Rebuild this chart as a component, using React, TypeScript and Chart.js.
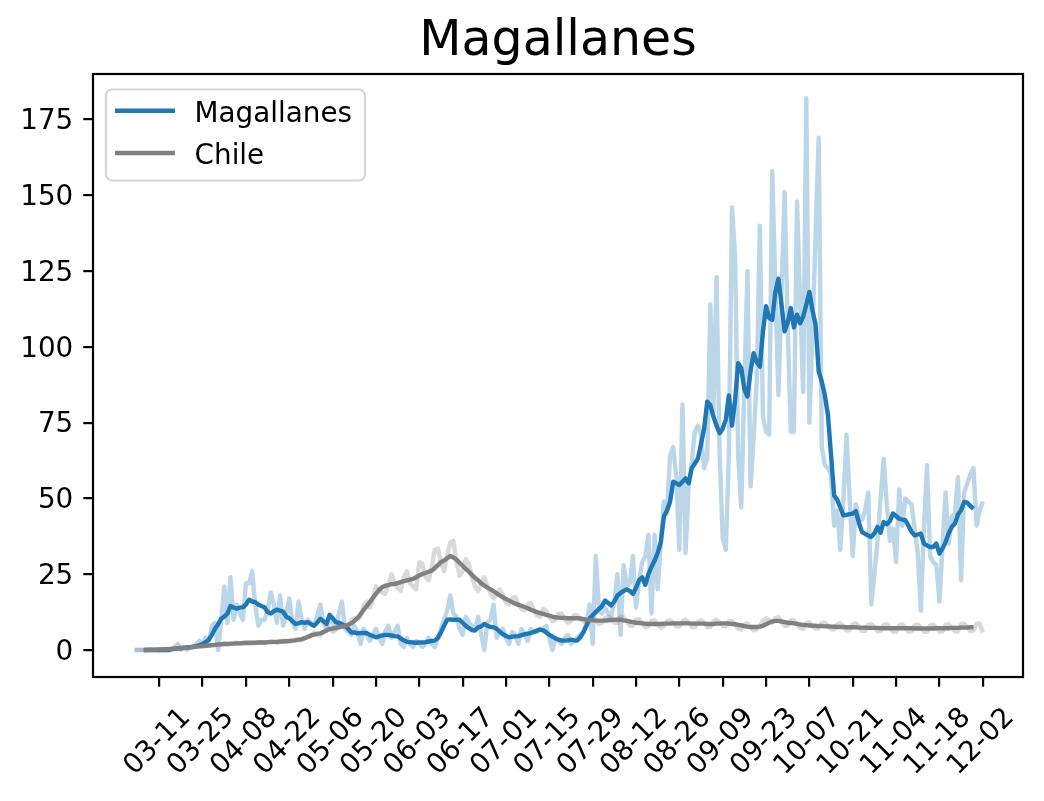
import { useEffect, useRef } from "react";
import { Chart, registerables } from "chart.js";

Chart.register(...registerables);

// Day index 0 = 03-03, last index 274 = 12-02
const DAILY_START = 0;
const AVG_START = 3; // centred 7-day mean begins on 03-06

const TITLE = "Magallanes";
const LEGEND_LABELS = ["Magallanes", "Chile"];

const MAGALLANES_DAILY = [
  0, 0, 0, 0, 0, 0, 0, 0, 0, 0,
  0, 0, 0, 1, 2, 0, 1, 0, 1, 1,
  2, 3, 2, 4, 3, 8, 9, 0, 10, 21,
  9, 24, 10, 15, 12, 10, 22, 22, 26, 15,
  8, 10, 10, 13, 19, 15, 9, 18, 8, 12,
  17, 9, 7, 16, 10, 7, 10, 9, 8, 11,
  15, 9, 7, 10, 9, 7, 12, 16, 7, 6,
  5, 8, 6, 2, 7, 5, 3, 5, 7, 4,
  2, 6, 8, 4, 6, 8, 2, 1, 4, 2,
  1, 3, 2, 1, 2, 4, 2, 1, 4, 7,
  10, 13, 18, 12, 11, 7, 5, 11, 9, 8,
  7, 11, 5, 0, 9, 10, 15, 4, 6, 7,
  4, 2, 6, 5, 2, 7, 5, 3, 7, 6,
  6, 7, 7, 8, 4, 0, 4, 3, 2, 4,
  5, 2, 3, 4, 5, 6, 9, 15, 2, 31,
  14, 12, 14, 12, 11, 16, 25, 5, 28, 21,
  22, 31, 14, 23, 29, 31, 38, 12, 38, 20,
  35, 49, 45, 64, 67, 57, 33, 81, 32, 54,
  62, 72, 74, 71, 60, 63, 114, 78, 123, 65,
  37, 33, 65, 146, 130, 64, 47, 88, 125, 54,
  70, 89, 140, 77, 72, 71, 158, 120, 84, 118,
  151, 106, 72, 72, 148, 115, 85, 182, 75, 105,
  137, 169, 67, 61, 60, 58, 41, 46, 33, 50,
  71, 50, 31, 48, 44, 43, 46, 52, 15, 25,
  36, 50, 63, 48, 36, 40, 29, 53, 41, 50,
  49, 48, 40, 32, 13, 40, 61, 31, 29, 28,
  16, 34, 52, 35, 44, 45, 57, 23, 52, 55,
  58, 60, 41, 46, 49,
];

const MAGALLANES_AVG = [
  0, 0, 0, 0, 0, 0, 0,
  0, 0, 0.3, 0.4, 0.6, 0.7, 0.7, 0.9, 0.9, 1.1,
  1.3, 1.6, 2, 2.6, 3.4, 5, 7, 8.5, 10.3, 11,
  12, 14.5, 14, 13.6, 14, 14.1, 15, 16.6, 16, 15.8,
  15, 14.5, 14.1, 12.5, 12, 12.8, 13.3, 13, 12.7, 11,
  10.5, 9.5, 8.6, 8.8, 9.2, 9, 9.2, 8.5, 8, 9,
  10.3, 9.5, 8.6, 11.6, 10.5, 9.2, 9, 8.5, 8, 7,
  5.8, 5.8, 5.5, 5.6, 5.6, 5.6, 5, 4.6, 4.2, 4.5,
  4.8, 5, 5, 4.8, 4.6, 4.5, 3.8, 3.2, 2.7, 2.6,
  2.5, 2.4, 2.5, 2.5, 2.6, 2.8, 3, 3.1, 4, 5.8,
  8, 10, 10.1, 10, 10, 10, 9, 8, 7.2, 6.6,
  6.4, 7.5, 7.8, 8.6, 8, 7.6, 7.5, 7, 6, 5.2,
  4.6, 4.2, 4.4, 4.5, 4.6, 4.9, 5.2, 5.4, 5.6, 6,
  6.4, 6.7, 6.5, 5.8, 5, 4.4, 3.8, 3.4, 3.1, 3.1,
  3.2, 3.4, 3.2, 3.1, 4.2, 5.8, 8, 10.4, 11.5, 12.5,
  13.5, 14.5, 16.3, 15.5, 14.7, 16, 18, 18.8, 19.5, 20,
  19.5, 18.5, 20.5, 23, 24, 21.5, 25, 27.4, 29.5, 32,
  35.6, 44, 46, 48.9, 55.5, 55, 54.4, 55.5, 56.6, 55,
  60, 61.5, 63.2, 68, 73, 81.9, 80.8, 77, 74, 71.5,
  73, 76, 84, 74, 82.5, 94.6, 93, 86, 83.6, 92,
  97.9, 95, 93.5, 105, 113.4, 109.5, 108.9, 118, 122.5, 114,
  105.1, 108, 112.8, 106.4, 110.6, 107.8, 110, 113.9, 118.1, 112,
  107.3, 92, 88.5, 84, 77.5, 64.3, 51, 49.5, 47, 44.4,
  44.6, 44.8, 45, 45.8, 42, 38.9, 38.3, 37.8, 37.3, 38.5,
  40.6, 38.7, 42.2, 41.5, 42.5, 45, 44.2, 43.3, 43, 42.8,
  41, 39, 37.8, 38.1, 38.4, 35.1, 34.5, 34, 34, 35.1,
  31.8, 33.5, 35.6, 38.5, 40.6, 41.7, 44.7, 46.1, 48.9, 48.6,
  47.5, 46.6,
];

const CHILE_DAILY = [
  0, 0, 0, 0, 0, 0, 0, 0, 0, 0.1,
  0.1, 0.2, 0.3, 0.3, 0.5, 0.6, 0.5, 0.8, 0.9, 1.0,
  1.1, 1.3, 1.2, 1.4, 1.7, 1.5, 1.6, 2.0, 1.8, 2.2,
  2.0, 1.9, 2.3, 2.4, 2.1, 2.2, 2.5, 2.6, 2.2, 2.3,
  2.7, 2.6, 2.3, 2.5, 2.9, 2.7, 2.4, 2.6, 3.1, 2.9,
  2.7, 3.0, 3.5, 3.3, 3.2, 4.0, 4.5, 4.7, 5.8, 5.0,
  4.8, 5.9, 6.8, 7.2, 6.0, 6.6, 8.0, 8.5, 7.6, 7.4,
  9.8, 10.5, 10.2, 10.9, 14.5, 16.0, 14.0, 16.5, 21.0, 19.5,
  19.0, 18.5, 21.5, 25.0, 22.0, 20.5, 19.5, 24.0, 26.0, 22.0,
  21.0, 20.0, 29.0, 28.5, 24.0, 23.0, 27.0, 33.0, 33.5, 29.0,
  26.0, 31.0, 35.5, 36.0, 29.0, 24.5, 26.0, 30.0, 28.5, 24.0,
  21.0, 19.5, 22.0, 24.0, 21.0, 18.5, 17.0, 18.5, 20.0, 18.0,
  15.5, 15.0, 17.0, 17.5, 15.0, 13.5, 13.0, 15.0, 15.5, 13.0,
  11.5, 11.0, 13.5, 13.0, 11.0, 9.5, 10.0, 12.0, 12.0, 10.0,
  9.0, 9.5, 11.5, 11.5, 10.0, 9.5, 9.0, 10.5, 11.0, 10.0,
  8.5, 9.0, 10.5, 11.0, 10.0, 9.0, 9.0, 11.0, 10.8, 9.5,
  8.0, 8.0, 10.0, 10.2, 9.0, 7.5, 7.8, 9.5, 9.8, 8.5,
  7.3, 7.8, 9.5, 9.8, 9.0, 7.8, 7.8, 9.5, 10.0, 9.0,
  7.6, 7.5, 9.3, 9.8, 9.0, 7.5, 7.6, 9.4, 10.0, 9.2,
  8.0, 7.8, 9.4, 9.5, 8.5, 7.0, 6.8, 8.5, 8.8, 7.5,
  6.5, 6.8, 8.2, 9.5, 10.5, 9.8, 9.0, 10.5, 10.8, 9.2,
  8.0, 8.0, 9.8, 9.8, 8.5, 7.2, 7.0, 8.8, 9.2, 8.0,
  7.0, 7.2, 8.8, 9.0, 8.0, 6.8, 6.8, 8.5, 8.8, 7.6,
  6.4, 6.6, 8.5, 8.8, 7.8, 6.3, 6.3, 8.3, 8.6, 7.5,
  6.2, 6.3, 8.3, 8.5, 7.5, 6.1, 6.0, 8.2, 8.5, 7.4,
  6.0, 6.2, 8.2, 8.4, 7.4, 6.0, 6.0, 8.2, 8.4, 7.4,
  6.0, 6.2, 8.3, 8.5, 7.5, 6.1, 6.2, 8.5, 8.7, 7.6,
  6.3, 6.4, 8.6, 8.8, 5.8,
];

const CHILE_AVG = [
  0, 0, 0.1, 0.1, 0.1, 0.2, 0.2,
  0.3, 0.3, 0.4, 0.5, 0.6, 0.6, 0.7, 0.8, 0.9, 1,
  1.1, 1.2, 1.3, 1.4, 1.5, 1.6, 1.7, 1.8, 1.9, 2,
  2, 2.1, 2.1, 2.2, 2.2, 2.3, 2.3, 2.3, 2.4, 2.4,
  2.5, 2.5, 2.5, 2.6, 2.6, 2.7, 2.7, 2.8, 2.8, 2.9,
  3, 3.1, 3.2, 3.4, 3.6, 3.9, 4.3, 4.8, 5.1, 5.3,
  5.5, 5.9, 6.4, 6.9, 7.1, 7.3, 7.5, 7.7, 8, 8.3,
  8.8, 9.6, 10.5, 11.8, 13.2, 14.5, 15.8, 17.2, 18.5, 19.8,
  20.7, 21.2, 21.4, 21.7, 21.8, 22.1, 22.4, 22.7, 23, 23.2,
  23.5, 24, 24.6, 25.1, 25.4, 25.8, 26.2, 27, 28, 29,
  29.5, 30.3, 31, 30.5, 29.8, 28.8, 27.8, 26.8, 25.8, 24.8,
  23.8, 23, 22, 21.3, 20.6, 20, 19.4, 18.7, 18, 17.4,
  16.8, 16.3, 15.8, 15.3, 14.9, 14.6, 14.2, 13.8, 13.3, 12.9,
  12.5, 12.2, 11.9, 11.6, 11.3, 11, 10.8, 10.7, 10.6, 10.6,
  10.5, 10.5, 10.5, 10.5, 10.4, 10.2, 10, 9.9, 9.8, 9.7,
  9.7, 9.7, 9.7, 9.8, 9.9, 10, 10, 10, 9.8, 9.6,
  9.4, 9.2, 9, 8.9, 8.8, 8.7, 8.6, 8.6, 8.6, 8.6,
  8.6, 8.7, 8.7, 8.7, 8.8, 8.8, 8.8, 8.8, 8.8, 8.8,
  8.7, 8.7, 8.7, 8.7, 8.7, 8.6, 8.6, 8.6, 8.7, 8.7,
  8.8, 8.8, 8.7, 8.6, 8.5, 8.3, 8.1, 7.9, 7.7, 7.6,
  7.6, 7.6, 7.7, 8, 8.5, 9, 9.4, 9.6, 9.6, 9.4,
  9.2, 9, 8.9, 8.8, 8.6, 8.4, 8.3, 8.2, 8.1, 8,
  8, 7.9, 7.9, 7.8, 7.8, 7.7, 7.7, 7.6, 7.6, 7.6,
  7.5, 7.5, 7.5, 7.5, 7.4, 7.4, 7.4, 7.3, 7.3, 7.3,
  7.3, 7.2, 7.2, 7.2, 7.2, 7.2, 7.2, 7.2, 7.2, 7.2,
  7.2, 7.2, 7.1, 7.1, 7.1, 7.1, 7.1, 7.1, 7.1, 7.2,
  7.2, 7.2, 7.2, 7.2, 7.3, 7.3, 7.3, 7.4, 7.4, 7.4,
  7.5, 7.5,
];

const X_TICK_DAYS = [8, 22, 36, 50, 64, 78, 92, 106, 120, 134, 148, 162, 176, 190, 204, 218, 232, 246, 260, 274];
const X_TICK_LABELS = [
  "03-11", "03-25", "04-08", "04-22", "05-06", "05-20", "06-03", "06-17", "07-01", "07-15",
  "07-29", "08-12", "08-26", "09-09", "09-23", "10-07", "10-21", "11-04", "11-18", "12-02",
];
const Y_TICKS = [0, 25, 50, 75, 100, 125, 150, 175];

const BLUE = "#1f77b4";
const BLUE_LIGHT = "rgba(31,119,180,0.3)";
const GRAY = "#808080";
const GRAY_LIGHT = "rgba(128,128,128,0.3)";
const FONT = '"DejaVu Sans"';
const LW = 4.4;

const toPoints = (arr: number[], start: number) => arr.map((v, k) => ({ x: start + k, y: v }));

const mplPlugin = {
  id: "mplDecor",
  afterDatasetsDraw(chart: any) {
    const { ctx, chartArea: a } = chart;
    ctx.save();
    ctx.strokeStyle = "#000";
    ctx.lineWidth = 2.2;
    ctx.strokeRect(a.left, a.top, a.right - a.left, a.bottom - a.top);
    ctx.restore();
  },
  afterDraw(chart: any) {
    const { ctx, chartArea: a } = chart;
    const xs = chart.scales.x;
    ctx.save();
    // rotated x tick labels, centred on tick
    ctx.fillStyle = "#000";
    ctx.font = `27.8px ${FONT}`;
    ctx.textAlign = "center";
    ctx.textBaseline = "middle";
    X_TICK_DAYS.forEach((d, k) => {
      const px = xs.getPixelForValue(d);
      ctx.save();
      ctx.translate(px - 1.5, a.bottom + 65);
      ctx.rotate(-Math.PI / 4);
      ctx.fillText(X_TICK_LABELS[k], 0, 0);
      ctx.restore();
    });
    // title
    ctx.font = `49px ${FONT}`;
    ctx.textAlign = "center";
    ctx.textBaseline = "alphabetic";
    ctx.fillText(TITLE, (a.left + a.right) / 2, 55);
    // legend
    const lx = 106, ly = 89.5, lw = 259, lh = 91;
    ctx.beginPath();
    (ctx as any).roundRect(lx, ly, lw, lh, 6);
    ctx.fillStyle = "rgba(255,255,255,0.8)";
    ctx.fill();
    ctx.strokeStyle = "rgba(204,204,204,0.8)";
    ctx.lineWidth = 2.2;
    ctx.stroke();
    const rows = [
      { y: 110.7, color: BLUE, base: 121.7 },
      { y: 153, color: GRAY, base: 164 },
    ];
    rows.forEach((r, k) => {
      ctx.beginPath();
      ctx.moveTo(115, r.y);
      ctx.lineTo(175, r.y);
      ctx.strokeStyle = r.color;
      ctx.lineWidth = LW;
      ctx.stroke();
      ctx.fillStyle = "#000";
      ctx.font = `27.8px ${FONT}`;
      ctx.textAlign = "left";
      ctx.textBaseline = "alphabetic";
      ctx.fillText(LEGEND_LABELS[k], 194.6, r.base);
    });
    ctx.restore();
  },
};

export default function App() {
  const ref = useRef<HTMLCanvasElement | null>(null);
  useEffect(() => {
    if (!ref.current) return;
    Chart.defaults.font.family = FONT;
    const lineBase = {
      borderWidth: LW,
      pointRadius: 0,
      pointHoverRadius: 0,
      tension: 0,
      fill: false,
      borderJoinStyle: "round" as const,
    };
    const chart = new Chart(ref.current, {
      type: "line",
      data: {
        datasets: [
          { ...lineBase, label: "Chile", data: toPoints(CHILE_AVG, AVG_START), borderColor: GRAY, order: 0 },
          { ...lineBase, label: "Magallanes", data: toPoints(MAGALLANES_AVG, AVG_START), borderColor: BLUE, order: 1 },
          { ...lineBase, label: "Chile diario", data: toPoints(CHILE_DAILY, DAILY_START), borderColor: GRAY_LIGHT, order: 2 },
          { ...lineBase, label: "Magallanes diario", data: toPoints(MAGALLANES_DAILY, DAILY_START), borderColor: BLUE_LIGHT, order: 3 },
        ],
      },
      options: {
        responsive: false,
        animation: false,
        events: [],
        layout: { padding: { left: 0, top: 74, right: 21, bottom: 0 } },
        plugins: {
          legend: { display: false },
          title: { display: false },
          tooltip: { enabled: false },
        },
        scales: {
          x: {
            type: "linear",
            min: -13.4,
            max: 287.0,
            afterBuildTicks: (s: any) => {
              s.ticks = X_TICK_DAYS.map((v) => ({ value: v }));
            },
            afterFit: (s: any) => {
              s.height = 124;
            },
            ticks: { display: false, autoSkip: false },
            grid: { drawOnChartArea: false, drawTicks: true, tickLength: 9.7, color: "#000", lineWidth: 2.2 },
            border: { display: false },
          },
          y: {
            type: "linear",
            min: -8.9,
            max: 190.0,
            afterBuildTicks: (s: any) => {
              s.ticks = Y_TICKS.map((v) => ({ value: v }));
            },
            afterFit: (s: any) => {
              s.width = 93;
            },
            ticks: {
              autoSkip: false,
              color: "#000",
              padding: 10,
              labelOffset: 2.5,
              font: { family: FONT, size: 27.8 },
            },
            grid: { drawOnChartArea: false, drawTicks: true, tickLength: 9.7, color: "#000", lineWidth: 2.2 },
            border: { display: false },
          },
        },
      },
      plugins: [mplPlugin],
    });
    return () => chart.destroy();
  }, []);
  return (
    <div style={{ position: "absolute", left: 0, top: 0, width: 1044, height: 801, background: "#fff" }}>
      <canvas ref={ref} width={1044} height={801} style={{ width: 1044, height: 801, display: "block" }} />
    </div>
  );
}
